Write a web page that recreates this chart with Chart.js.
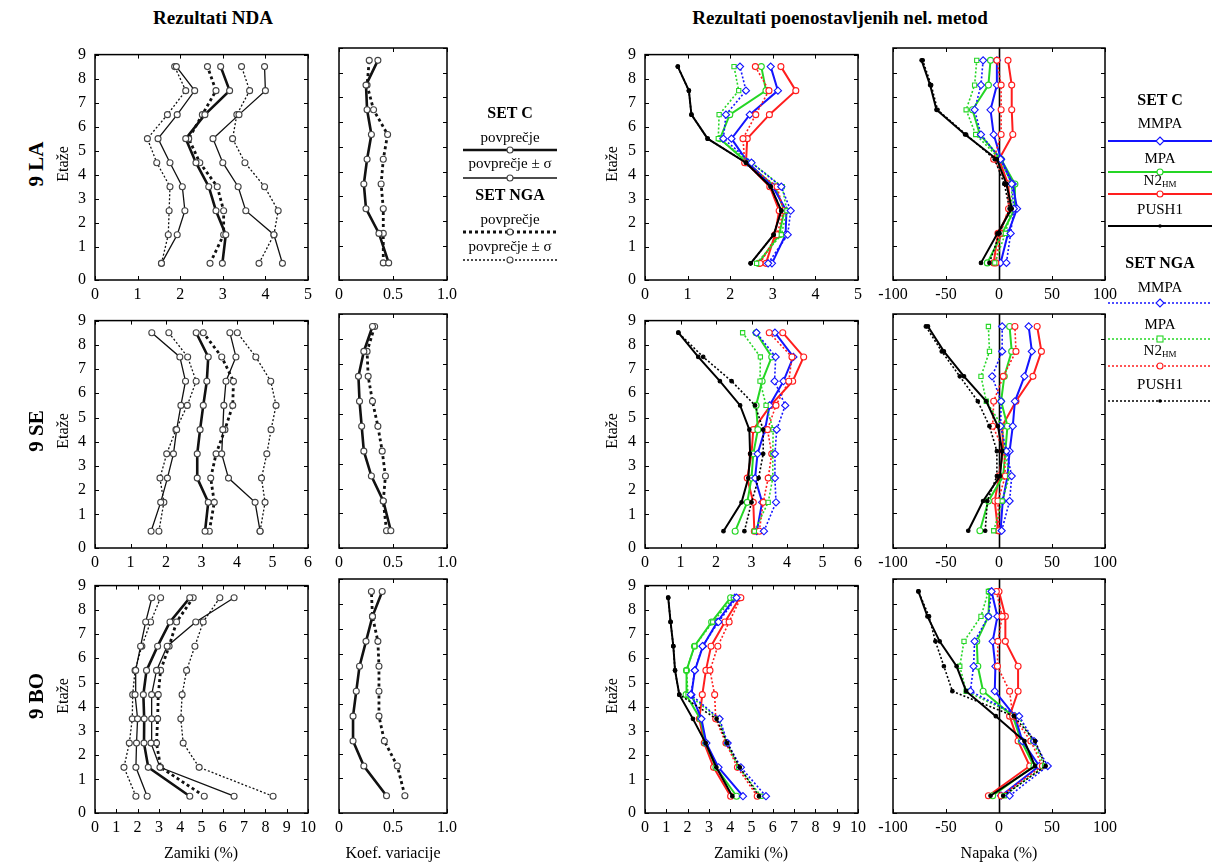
<!DOCTYPE html>
<html><head><meta charset="utf-8">
<script src="https://cdn.jsdelivr.net/npm/chart.js@4.4.1/dist/chart.umd.min.js"></script>
<style>
body{margin:0;background:#fff;width:1224px;height:863px;position:relative;overflow:hidden;font-family:'Liberation Serif','Times New Roman',serif;color:#000}
.t{position:absolute;white-space:nowrap;transform:translate(-50%,-50%);line-height:1}
.r{position:absolute;white-space:nowrap;transform:translate(-50%,-50%) rotate(-90deg);line-height:1}
.b{font-weight:bold}
canvas{position:absolute}
svg{position:absolute;left:0;top:0}
sub{font-size:60%;vertical-align:-2px}
</style></head><body>
<script>
// ---------------- tick labels / categories ----------------
const storeyLabels = ['0','1','2','3','4','5','6','7','8','9'];
const storeyHeightsFt = [18, 13, 13, 13, 13, 13, 13, 13, 13];   // storey 1 .. 9
const buildings = ['9 LA', '9 SE', '9 BO'];
const methods = ['MMPA', 'MPA', 'N2HM', 'PUSH1'];

// ---------------- 9 LA (storey 1 -> 9) ----------------
const laCMean = [2.99, 3.07, 2.84, 2.67, 2.37, 2.13, 2.58, 3.16, 2.95];
const laCLo   = [1.56, 1.93, 2.11, 2.05, 1.76, 1.48, 1.93, 2.34, 1.91];
const laCHi   = [4.40, 4.20, 3.54, 3.36, 3.00, 2.77, 3.38, 4.00, 3.98];
const laNMean = [2.70, 3.02, 3.02, 2.87, 2.46, 2.20, 2.52, 2.84, 2.64];
const laNLo   = [1.56, 1.72, 1.74, 1.76, 1.45, 1.23, 1.70, 2.13, 1.87];
const laNHi   = [3.85, 4.20, 4.30, 3.98, 3.52, 3.23, 3.33, 3.63, 3.44];
const laCCov  = [0.46, 0.37, 0.25, 0.23, 0.26, 0.30, 0.26, 0.25, 0.36];
const laNCov  = [0.41, 0.41, 0.41, 0.39, 0.41, 0.45, 0.32, 0.26, 0.28];
const laC_MMPA = [2.98, 3.30, 3.32, 3.00, 2.42, 2.03, 2.46, 3.12, 2.95];
const laC_MPA  = [2.66, 3.15, 3.27, 3.05, 2.40, 1.76, 1.99, 2.84, 2.73];
const laC_N2   = [2.84, 3.05, 3.15, 2.93, 2.37, 2.40, 2.92, 3.54, 3.19];
const laC_PUSH = [2.48, 3.02, 3.20, 2.95, 2.37, 1.47, 1.09, 1.03, 0.77];
const laN_MMPA = [2.89, 3.35, 3.42, 3.20, 2.50, 1.84, 1.90, 2.37, 2.23];
const laN_MPA  = [2.62, 3.20, 3.33, 3.22, 2.50, 1.72, 1.74, 2.20, 2.09];
const laN_N2   = [2.70, 3.10, 3.25, 3.10, 2.34, 2.30, 2.60, 2.91, 2.59];
const laN_PUSH = [2.48, 3.02, 3.20, 2.95, 2.37, 1.47, 1.09, 1.03, 0.77];
const laEC_MMPA = [1.5, 8.5, 17, 13, 2, -5, -8, -2, -2];
const laEC_MPA  = [-11, 3, 15, 15, 2, -18, -25, -10, -8];
const laEC_N2   = [-5, -1, 11, 8.5, 0, 13, 12, 12, 8.5];
const laEC_PUSH = [-17, -1.5, 12, 7, -2, -32, -59, -65, -73];
const laEN_MMPA = [7, 11, 14, 12, 1.5, -17, -23, -17, -15];
const laEN_MPA  = [-4, 6, 12, 12, 1, -22, -31, -23, -21];
const laEN_N2   = [-3, 1.5, 9, 8, -5, 2, 2, 2, -2];
const laEN_PUSH = [-9, 0.5, 10, 5, -4, -31, -58, -64, -72];

// ---------------- 9 SE ----------------
const seCMean = [3.10, 3.19, 2.88, 2.88, 2.96, 3.05, 3.15, 3.19, 2.85];
const seCLo   = [1.58, 1.85, 2.04, 2.21, 2.30, 2.42, 2.55, 2.39, 1.60];
const seCHi   = [4.65, 4.51, 3.76, 3.57, 3.60, 3.63, 3.69, 3.97, 3.80];
const seNMean = [3.22, 3.36, 3.26, 3.41, 3.66, 3.88, 3.90, 3.57, 3.05];
const seNLo   = [1.80, 1.94, 1.83, 2.02, 2.28, 2.60, 2.85, 2.61, 2.08];
const seNHi   = [4.65, 4.79, 4.69, 4.84, 4.96, 5.10, 4.95, 4.53, 4.01];
const seCCov  = [0.48, 0.41, 0.30, 0.23, 0.21, 0.19, 0.18, 0.23, 0.31];
const seNCov  = [0.44, 0.41, 0.43, 0.40, 0.36, 0.31, 0.27, 0.26, 0.33];
const seC_MMPA = [3.15, 3.30, 3.10, 3.17, 3.38, 3.51, 3.90, 4.18, 3.66];
const seC_MPA  = [2.54, 2.88, 3.00, 3.05, 3.18, 3.13, 3.30, 3.57, 3.13];
const seC_N2   = [3.08, 3.05, 2.88, 3.00, 3.05, 3.54, 4.16, 4.47, 3.88];
const seC_PUSH = [2.21, 2.72, 2.91, 2.96, 2.94, 2.68, 2.11, 1.50, 0.94];
const seN_MMPA = [3.35, 3.69, 3.66, 3.66, 3.71, 3.95, 3.65, 3.68, 3.14];
const seN_MPA  = [3.08, 3.47, 3.60, 3.60, 3.61, 3.41, 3.24, 3.25, 2.75];
const seN_N2   = [3.22, 3.33, 3.47, 3.57, 3.45, 3.69, 4.05, 4.14, 3.50];
const seN_PUSH = [2.80, 3.00, 3.20, 3.33, 3.33, 3.10, 2.44, 1.64, 0.94];
const seEC_MMPA = [1.5, 3.5, 8, 10, 13, 15, 24, 31, 28];
const seEC_MPA  = [-18, -10, 4, 6, 8, 2, 5, 12, 10];
const seEC_N2   = [-1, -4, 0, 4, 3, 16, 32, 40, 36];
const seEC_PUSH = [-29, -15, 1, 3, -1, -12, -33, -52, -67];
const seEN_MMPA = [2.5, 10, 12, 7, 1.5, 2, -6.5, 3, 3];
const seEN_MPA  = [-5, 3, 10, 5.5, 3, -12, -17, -9, -10];
const seEN_N2   = [0, -1, 6, 5, -6, -5, 4, 16, 15];
const seEN_PUSH = [-13, -11, -2, -2, -9, -20, -37, -54, -69];

// ---------------- 9 BO ----------------
const boCMean = [4.45, 2.50, 2.30, 2.31, 2.27, 2.42, 2.94, 3.52, 4.45];
const boCLo   = [2.45, 1.92, 1.95, 2.00, 1.88, 1.91, 2.14, 2.38, 2.67];
const boCHi   = [6.53, 3.05, 2.63, 2.66, 2.66, 2.89, 3.39, 4.73, 6.53];
const boNMean = [5.13, 3.08, 2.89, 2.94, 2.97, 3.08, 3.48, 3.83, 4.61];
const boNLo   = [1.92, 1.36, 1.61, 1.75, 1.77, 1.88, 2.20, 2.61, 3.08];
const boNHi   = [8.36, 4.89, 4.14, 4.03, 4.09, 4.30, 4.69, 5.08, 5.86];
const boCCov  = [0.44, 0.23, 0.13, 0.13, 0.16, 0.19, 0.25, 0.31, 0.40];
const boNCov  = [0.61, 0.54, 0.42, 0.37, 0.37, 0.37, 0.36, 0.31, 0.30];
const boC_MMPA = [4.60, 3.45, 2.88, 2.65, 2.18, 2.34, 2.72, 3.39, 4.22];
const boC_MPA  = [4.30, 3.33, 2.85, 2.60, 1.93, 1.95, 2.32, 3.13, 4.02];
const boC_N2   = [4.02, 3.22, 2.78, 2.55, 2.69, 2.86, 3.10, 3.75, 4.45];
const boC_PUSH = [4.10, 3.35, 2.85, 2.25, 1.61, 1.41, 1.33, 1.20, 1.09];
const boN_MMPA = [5.68, 4.50, 3.88, 3.50, 2.15, 2.34, 2.70, 3.45, 4.30];
const boN_MPA  = [5.45, 4.40, 3.84, 3.47, 2.02, 1.94, 2.33, 3.18, 4.15];
const boN_N2   = [5.27, 4.34, 3.80, 3.32, 3.27, 3.05, 3.42, 3.95, 4.50];
const boN_PUSH = [5.35, 4.45, 3.86, 3.36, 1.61, 1.41, 1.33, 1.20, 1.09];
const boEC_MMPA = [2, 38, 22, 15, -4, -3.4, -6, -1.5, -7];
const boEC_MPA  = [-6, 33, 21, 13, -15, -20, -21, -10, -9];
const boEC_N2   = [-10, 29, 18, 10, 18, 18, 6, 6, 0];
const boEC_PUSH = [-8, 34, 24, -3, -31, -40, -56, -67.5, -76];
const boEN_MMPA = [10, 46, 33, 19, -27, -24, -23, -10, -7];
const boEN_MPA  = [5, 43, 32, 18, -31, -37, -33, -17, -10];
const boEN_N2   = [2, 41, 30, 13, 10, -1.5, -1, 3, -2.5];
const boEN_PUSH = [4, 44, 34, 14, -44, -52, -60, -66, -76];

// ---------------- layout (pixels) ----------------
const COLS = [[95, 308], [339, 447], [645, 858], [893, 1105]];
const ROWS = [[48, 280], [314, 548], [579, 813]];
const BLUE = '#1414ff', GREEN = '#25d625', RED = '#ff1e1e', BLACK = '#000';
const FONT = "'Liberation Serif','Times New Roman',serif";

// storey geometry (heights in units of a typical 13 ft storey)
const storeyTop = [0];
storeyHeightsFt.forEach(h => storeyTop.push(storeyTop[storeyTop.length - 1] + h / 13));
const storeyMid = storeyHeightsFt.map((h, i) => (storeyTop[i] + storeyTop[i + 1]) / 2);
const pts = vals => vals.map((v, i) => ({x: v, y: storeyMid[i]}));

// ---------------- plugin: closed frame with inward ticks ----------------
const frameTicks = {
  id: 'frameTicks',
  beforeDatasetsDraw(chart, args, opts) {
    if (!opts.zeroLine) return;
    const {ctx, chartArea: a, scales: {x}} = chart;
    const px = Math.round(x.getPixelForValue(0)) + 0.5;
    ctx.save(); ctx.strokeStyle = '#000'; ctx.lineWidth = 1.6;
    ctx.beginPath(); ctx.moveTo(px, a.top); ctx.lineTo(px, a.bottom); ctx.stroke();
    ctx.restore();
  },
  afterDraw(chart) {
    const {ctx, chartArea: a, scales: {x, y}} = chart;
    ctx.save(); ctx.strokeStyle = '#000'; ctx.lineWidth = 1;
    const L = 4;
    ctx.beginPath();
    x.ticks.forEach(t => {
      const px = Math.round(x.getPixelForValue(t.value)) + 0.5;
      ctx.moveTo(px, a.bottom); ctx.lineTo(px, a.bottom - L);
      ctx.moveTo(px, a.top); ctx.lineTo(px, a.top + L);
    });
    y.ticks.forEach(t => {
      const py = Math.round(y.getPixelForValue(t.value)) + 0.5;
      ctx.moveTo(a.left, py); ctx.lineTo(a.left + L, py);
      ctx.moveTo(a.right, py); ctx.lineTo(a.right - L, py);
    });
    ctx.stroke();
    ctx.lineWidth = 1.5;
    ctx.strokeRect(a.left, a.top, a.right - a.left, a.bottom - a.top);
    ctx.restore();
  }
};

// ---------------- dataset builders ----------------
const ndaStyle = (vals, w, dash) => ({
  data: pts(vals), showLine: true, borderColor: '#111', borderWidth: w, borderDash: dash,
  pointStyle: 'circle', pointRadius: 3, pointBorderWidth: 1.1, pointBorderColor: '#444',
  pointBackgroundColor: '#fff'
});
function ndaSets(cm, clo, chi, nm, nlo, nhi) {
  return [
    ndaStyle(cm, 2.6, []), ndaStyle(clo, 1.3, []), ndaStyle(chi, 1.3, []),
    ndaStyle(nm, 2.8, [3, 3]), ndaStyle(nlo, 1.3, [2, 2]), ndaStyle(nhi, 1.3, [2, 2])
  ];
}
function covSets(c, n) {
  return [ndaStyle(c, 2.6, []), ndaStyle(n, 2.8, [3, 3])];
}
const methStyle = (vals, color, marker, dotted) => ({
  data: pts(vals), showLine: true, borderColor: color, borderWidth: dotted ? 1.6 : 2,
  borderDash: dotted ? [2, 2] : [],
  pointStyle: marker === 'dot' ? 'circle' : marker,
  pointRadius: marker === 'dot' ? 1.8 : (marker === 'rectRot' ? 3.6 : 3),
  pointBorderWidth: 1.1, pointBorderColor: color,
  pointBackgroundColor: marker === 'dot' ? color : '#fff'
});
function methSets(cMMPA, cMPA, cN2, cPUSH, nMMPA, nMPA, nN2, nPUSH) {
  return [
    methStyle(nPUSH, BLACK, 'dot', true), methStyle(cPUSH, BLACK, 'dot', false),
    methStyle(nMMPA, BLUE, 'rectRot', true), methStyle(nMPA, GREEN, 'rect', true), methStyle(nN2, RED, 'circle', true),
    methStyle(cMMPA, BLUE, 'rectRot', false), methStyle(cMPA, GREEN, 'circle', false), methStyle(cN2, RED, 'circle', false)
  ];
}

// ---------------- panel factory ----------------
function panel(row, col, xr, datasets, showY, zeroLine) {
  const [fl, fr] = COLS[col], [ft, fb] = ROWS[row];
  const YW = showY ? 40 : 22, PT = 12, PR = 22, XH = 30;
  const c = document.createElement('canvas');
  const w = YW + (fr - fl) + PR, h = PT + (fb - ft) + XH;
  c.width = w; c.height = h;
  c.style.left = (fl - YW) + 'px'; c.style.top = (ft - PT) + 'px';
  c.style.width = w + 'px'; c.style.height = h + 'px';
  document.body.appendChild(c);
  new Chart(c, {
    type: 'scatter',
    data: {datasets},
    options: {
      animation: false, responsive: false, devicePixelRatio: 1,
      layout: {padding: {top: PT, right: PR, left: 0, bottom: 0}},
      plugins: {legend: {display: false}, tooltip: {enabled: false}, frameTicks: {zeroLine}},
      scales: {
        x: {
          type: 'linear', min: xr.min, max: xr.max,
          ticks: {stepSize: xr.step, color: '#000', padding: 5, font: {family: FONT, size: 16},
                  maxRotation: 0, autoSkip: false, callback: xr.fmt},
          grid: {display: false, drawTicks: false}, border: {display: false},
          afterFit(s) { s.height = XH; }
        },
        y: {
          type: 'linear', min: 0, max: storeyTop[storeyTop.length - 1],
          afterBuildTicks(s) { s.ticks = storeyTop.map(v => ({value: v})); },
          ticks: {display: showY, color: '#000', padding: 9, font: {family: FONT, size: 16},
                  callback: (v, i) => storeyLabels[i]},
          grid: {display: false, drawTicks: false}, border: {display: false},
          afterFit(s) { s.width = YW; }
        }
      }
    },
    plugins: [frameTicks]
  });
}

const fmtInt = v => String(v);
const fmtCov = v => v === 0 ? '0' : v.toFixed(1);
const xDrift = [{min: 0, max: 5, step: 1, fmt: fmtInt}, {min: 0, max: 6, step: 1, fmt: fmtInt}, {min: 0, max: 10, step: 1, fmt: fmtInt}];
const xCov = {min: 0, max: 1, step: 0.5, fmt: fmtCov};
const xErr = {min: -100, max: 100, step: 50, fmt: fmtInt};

// row 1: 9 LA
panel(0, 0, xDrift[0], ndaSets(laCMean, laCLo, laCHi, laNMean, laNLo, laNHi), true, false);
panel(0, 1, xCov, covSets(laCCov, laNCov), false, false);
panel(0, 2, xDrift[0], methSets(laC_MMPA, laC_MPA, laC_N2, laC_PUSH, laN_MMPA, laN_MPA, laN_N2, laN_PUSH), true, false);
panel(0, 3, xErr, methSets(laEC_MMPA, laEC_MPA, laEC_N2, laEC_PUSH, laEN_MMPA, laEN_MPA, laEN_N2, laEN_PUSH), false, true);
// row 2: 9 SE
panel(1, 0, xDrift[1], ndaSets(seCMean, seCLo, seCHi, seNMean, seNLo, seNHi), true, false);
panel(1, 1, xCov, covSets(seCCov, seNCov), false, false);
panel(1, 2, xDrift[1], methSets(seC_MMPA, seC_MPA, seC_N2, seC_PUSH, seN_MMPA, seN_MPA, seN_N2, seN_PUSH), true, false);
panel(1, 3, xErr, methSets(seEC_MMPA, seEC_MPA, seEC_N2, seEC_PUSH, seEN_MMPA, seEN_MPA, seEN_N2, seEN_PUSH), false, true);
// row 3: 9 BO
panel(2, 0, xDrift[2], ndaSets(boCMean, boCLo, boCHi, boNMean, boNLo, boNHi), true, false);
panel(2, 1, xCov, covSets(boCCov, boNCov), false, false);
panel(2, 2, xDrift[2], methSets(boC_MMPA, boC_MPA, boC_N2, boC_PUSH, boN_MMPA, boN_MPA, boN_N2, boN_PUSH), true, false);
panel(2, 3, xErr, methSets(boEC_MMPA, boEC_MPA, boEC_N2, boEC_PUSH, boEN_MMPA, boEN_MPA, boEN_N2, boEN_PUSH), false, true);

// ---------------- texts ----------------
function txt(html, x, y, size, cls) {
  const d = document.createElement('div');
  d.className = cls || 't'; d.innerHTML = html;
  d.style.left = x + 'px'; d.style.top = y + 'px'; d.style.fontSize = size + 'px';
  document.body.appendChild(d);
}
txt('Rezultati NDA', 213, 17, 19, 't b');
txt('Rezultati poenostavljenih nel. metod', 840, 17, 19, 't b');
const rowCenters = [164, 431, 696];
buildings.forEach((b, i) => {
  txt(b, 36, rowCenters[i], 21, 'r b');
  txt('Etaže', 63, rowCenters[i], 16, 'r');
  txt('Etaže', 612, rowCenters[i], 16, 'r');
});
txt('Zamiki (%)', 201, 853, 16);
txt('Koef. variacije', 393, 853, 16);
txt('Zamiki (%)', 751, 853, 16);
txt('Napaka (%)', 999, 853, 16);

// ---------------- legends ----------------
const NS = 'http://www.w3.org/2000/svg';
const svg = document.createElementNS(NS, 'svg');
svg.setAttribute('width', 1224); svg.setAttribute('height', 863);
document.body.appendChild(svg);
function el(name, attrs) {
  const e = document.createElementNS(NS, name);
  for (const k in attrs) e.setAttribute(k, attrs[k]);
  svg.appendChild(e); return e;
}
function legLine(x1, x2, y, color, w, dash, marker) {
  el('line', {x1, x2, y1: y, y2: y, stroke: color, 'stroke-width': w, 'stroke-dasharray': dash || 'none'});
  const cx = (x1 + x2) / 2;
  const mk = {fill: '#fff', stroke: color === '#111' ? '#444' : color, 'stroke-width': 1.1};
  if (marker === 'circle') el('circle', Object.assign({cx, cy: y, r: 3}, mk));
  if (marker === 'rectRot') el('polygon', Object.assign({points: `${cx},${y - 4} ${cx + 4},${y} ${cx},${y + 4} ${cx - 4},${y}`}, mk));
  if (marker === 'rect') el('rect', Object.assign({x: cx - 3, y: y - 3, width: 6, height: 6}, mk));
  if (marker === 'dot') el('circle', {cx, cy: y, r: 1.8, fill: color});
}
// left legend (NDA)
txt('SET C', 510, 113, 16, 't b');
txt('povprečje', 510, 137, 15);
legLine(463, 557, 150, '#111', 2.6, '', 'circle');
txt('povprečje ± σ', 510, 163, 15);
legLine(463, 557, 178, '#111', 1.3, '', 'circle');
txt('SET NGA', 510, 195, 16, 't b');
txt('povprečje', 510, 219, 15);
legLine(463, 557, 232, '#111', 2.8, '3 3', 'circle');
txt('povprečje ± σ', 510, 246, 15);
legLine(463, 557, 260, '#111', 1.3, '2 2', 'circle');
// right legend (methods)
txt('SET C', 1160, 100, 16, 't b');
txt('SET NGA', 1160, 263, 16, 't b');
const legC = [[123, 141, BLUE, 'rectRot'], [158, 172, GREEN, 'circle'], [181, 194, RED, 'circle'], [209, 226, BLACK, 'dot']];
const legN = [[287, 303, BLUE, 'rectRot'], [324, 339, GREEN, 'rect'], [351, 366, RED, 'circle'], [384, 401, BLACK, 'dot']];
const mlab = m => m === 'N2HM' ? 'N2<sub>HM</sub>' : m;
legC.forEach((l, i) => { txt(mlab(methods[i]), 1160, l[0], 15); legLine(1108, 1212, l[1], l[2], 2, '', l[3]); });
legN.forEach((l, i) => { txt(mlab(methods[i]), 1160, l[0], 15); legLine(1108, 1212, l[1], l[2], 1.6, '2 2', l[3]); });
</script>
</body></html>
